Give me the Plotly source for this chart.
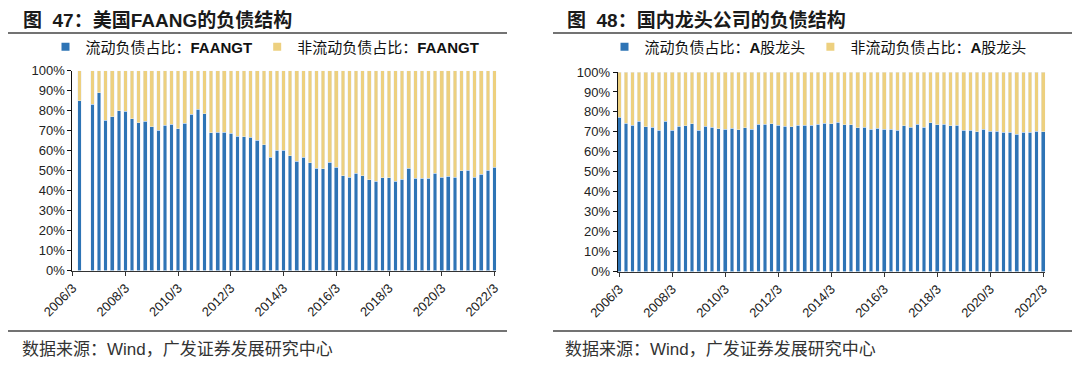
import plotly.graph_objects as go

# The page body has an 8px margin, so the figure is 16px smaller than the window
# and all layout positions are given in window pixels, shifted by that margin.
OFF = 8
W, H = 1080 - 2 * OFF, 371 - 2 * OFF

# ---- data (percent) ----
quarters = [f"{y}/{m}" for y in range(2006, 2023) for m in (3, 6, 9, 12)][:65]
tick_labels = ["2006/3", "2008/3", "2010/3", "2012/3", "2014/3", "2016/3", "2018/3", "2020/3", "2022/3"]

faang_current = [None, 85.0, None, 83.2, 89.0, 75.3, 77.0, 80.0, 79.7, 76.0,
                 74.0, 74.7, 72.0, 70.3, 72.7, 73.2, 71.0, 73.7, 78.3, 80.7,
                 78.5, 69.0, 69.2, 69.3, 68.8, 67.2, 67.0, 66.7, 65.2, 63.0,
                 56.7, 60.3, 60.2, 57.5, 54.7, 56.7, 54.0, 51.2, 51.0, 54.3,
                 51.8, 47.5, 46.8, 48.7, 47.5, 45.5, 44.8, 46.5, 46.5, 44.7,
                 45.8, 51.2, 46.3, 46.2, 46.3, 48.8, 46.8, 47.2, 46.7, 50.0,
                 50.2, 46.8, 48.3, 50.2, 51.7]
faang_noncurrent = [None, 15.0, None, 16.8, 11.0, 24.7, 23.0, 20.0, 20.3, 24.0,
                    26.0, 25.3, 28.0, 29.7, 27.3, 26.8, 29.0, 26.3, 21.7, 19.3,
                    21.5, 31.0, 30.8, 30.7, 31.2, 32.8, 33.0, 33.3, 34.8, 37.0,
                    43.3, 39.7, 39.8, 42.5, 45.3, 43.3, 46.0, 48.8, 49.0, 45.7,
                    48.2, 52.5, 53.2, 51.3, 52.5, 54.5, 55.2, 53.5, 53.5, 55.3,
                    54.2, 48.8, 53.7, 53.8, 53.7, 51.2, 53.2, 52.8, 53.3, 50.0,
                    49.8, 53.2, 51.7, 49.8, 48.3]

cn_current = [77.4, 74.4, 73.2, 75.3, 72.6, 72.2, 70.7, 75.4, 70.9, 72.7,
              73.1, 74.1, 70.7, 72.7, 72.4, 71.6, 71.4, 71.9, 71.1, 72.1,
              71.4, 73.7, 73.9, 74.1, 73.4, 72.9, 72.6, 73.2, 73.2, 73.4,
              73.9, 74.2, 74.1, 74.9, 73.6, 73.6, 72.1, 72.2, 71.4, 71.9,
              71.2, 71.2, 70.9, 73.1, 72.2, 73.9, 72.2, 74.6, 73.6, 73.9,
              73.1, 73.4, 70.7, 70.7, 70.1, 71.4, 70.2, 70.2, 69.7, 69.7,
              68.7, 69.9, 69.7, 70.4, 70.1]
cn_noncurrent = [22.6, 25.6, 26.8, 24.7, 27.4, 27.8, 29.3, 24.6, 29.1, 27.3,
                 26.9, 25.9, 29.3, 27.3, 27.6, 28.4, 28.6, 28.1, 28.9, 27.9,
                 28.6, 26.3, 26.1, 25.9, 26.6, 27.1, 27.4, 26.8, 26.8, 26.6,
                 26.1, 25.8, 25.9, 25.1, 26.4, 26.4, 27.9, 27.8, 28.6, 28.1,
                 28.8, 28.8, 29.1, 26.9, 27.8, 26.1, 27.8, 25.4, 26.4, 26.1,
                 26.9, 26.6, 29.3, 29.3, 29.9, 28.6, 29.8, 29.8, 30.3, 30.3,
                 31.3, 30.1, 30.3, 29.6, 29.9]

BLUE = "#2E74B5"
GOLD = "#EDD07F"
FONT = "Liberation Sans, Noto Sans CJK SC, sans-serif"

def px(xp):
    return (xp - OFF) / W

def py(yp):
    return 1 - (yp - OFF) / H

fig = go.Figure()
BW = 0.55
panels = [
    ("x", "y", "legend", faang_current, faang_noncurrent,
     "流动负债占比：<b>FAANGT</b>", "非流动负债占比：<b>FAANGT</b>"),
    ("x2", "y2", "legend2", cn_current, cn_noncurrent,
     "流动负债占比：<b>A</b>股龙头", "非流动负债占比：<b>A</b>股龙头"),
]
for xa, ya, lg, cur, nonc, n1, n2 in panels:
    fig.add_bar(x=quarters, y=cur, name=n1, marker_color=BLUE, width=BW,
                xaxis=xa, yaxis=ya, showlegend=False)
    fig.add_bar(x=quarters, y=nonc, name=n2, marker_color=GOLD, width=BW,
                xaxis=xa, yaxis=ya, showlegend=False)
    # legend entries with small square swatches
    for nm, col in ((n1, BLUE), (n2, GOLD)):
        fig.add_scatter(x=[None], y=[None], mode="markers", name=nm,
                        marker=dict(symbol="square", size=8, color=col),
                        xaxis=xa, yaxis=ya, legend=lg, showlegend=True)

xcommon = dict(type="category", categoryorder="array", categoryarray=quarters,
               tickmode="array", tickvals=tick_labels, ticktext=tick_labels,
               tickangle=-45, ticks="outside", ticklen=4, tickcolor="#333",
               showline=True, linecolor="#333", linewidth=1, showgrid=False,
               zeroline=False, automargin=False,
               tickfont=dict(family=FONT, size=13, color="#222"))
ycommon = dict(range=[0, 100], dtick=10, ticksuffix="%", ticks="outside", ticklen=4,
               tickcolor="#111", showline=True, linecolor="#111", linewidth=1,
               showgrid=False, zeroline=False, automargin=False,
               tickfont=dict(family=FONT, size=13, color="#222"))

legcommon = dict(orientation="h", xanchor="center", yanchor="middle",
                 font=dict(family=FONT, size=15, color="#111"), bgcolor="rgba(0,0,0,0)",
                 itemclick=False, traceorder="normal", tracegroupgap=0)

fig.update_layout(
    width=W, height=H, margin=dict(l=0, r=0, t=0, b=0, autoexpand=False),
    paper_bgcolor="white", plot_bgcolor="white", barmode="stack",
    xaxis=dict(xcommon, domain=[px(72.4), px(496.4)], range=[-0.05, 64.3], anchor="y"),
    yaxis=dict(ycommon, domain=[py(270.5), py(70.8)], anchor="x"),
    xaxis2=dict(xcommon, domain=[px(617.6), px(1045.2)], range=[-0.25, 64.3], anchor="y2"),
    yaxis2=dict(ycommon, domain=[py(271.5), py(72.0)], anchor="x2"),
    legend=dict(legcommon, x=px(265), y=py(47)),
    legend2=dict(legcommon, x=px(818), y=py(47)),
    showlegend=True,
)

# rules
for x0, x1 in [(8, 507), (553, 1072)]:
    for yy in (33, 331):
        fig.add_shape(type="line", xref="paper", yref="paper",
                      x0=px(x0), x1=px(x1), y0=py(yy), y1=py(yy),
                      line=dict(color="#444", width=1.5))

titles = [(22, "<b>图  47：美国FAANG的负债结构</b>"), (566, "<b>图  48：国内龙头公司的负债结构</b>")]
for xx, t in titles:
    fig.add_annotation(text=t, xref="paper", yref="paper", x=px(xx), y=py(8.5),
                       xanchor="left", yanchor="top", showarrow=False, borderpad=0,
                       font=dict(family=FONT, size=19, color="#1a1a1a"))
for xx in (20, 563):
    fig.add_annotation(text="数据来源：Wind，广发证券发展研究中心", xref="paper", yref="paper",
                       x=px(xx), y=py(349), xanchor="left", yanchor="middle", showarrow=False,
                       font=dict(family=FONT, size=17, color="#333"))

fig.write_html("out.html")
